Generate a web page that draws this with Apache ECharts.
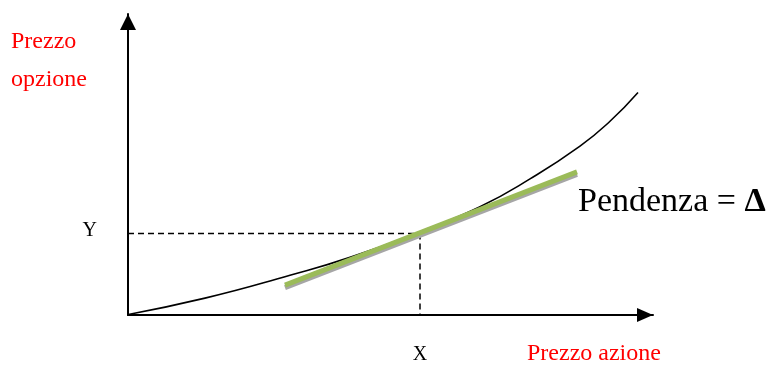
<!DOCTYPE html>
<html>
<head>
<meta charset="utf-8">
<script src="https://cdn.jsdelivr.net/npm/echarts@6/dist/echarts.min.js"></script>
<style>
* { padding: 0; margin: 0; }
body { background: #fff; }
</style>
</head>
<body>
<div id="chart" style="width: 769px; height: 365px"></div>
<script>
// curva del prezzo dell'opzione
var curveData = [
  [-8, -1], [77, 17], [162, 40], [222, 58], [290, 83],
  [352, 109], [402, 137], [452, 170], [482, 195], [510, 224]
];
// retta tangente (pendenza = delta)
var tangentData = [[157, 30], [449, 144]];
var pointX = 292;
var pointY = 82;
var dashH = [[0, pointY], [pointX, pointY]];
var dashV = [[pointX, pointY], [pointX, 0]];

var serif = "Liberation Serif";

var chart = echarts.init(document.getElementById("chart"));
chart.setOption({
  animation: false,
  grid: { left: 128, top: 14, width: 525, height: 303 },
  xAxis: {
    type: "value",
    min: 0,
    max: 525,
    splitLine: { show: false },
    axisTick: { show: false },
    axisLine: {
      lineStyle: { color: "#000", width: 2 },
      symbol: ["none", "triangle"],
      symbolSize: [14, 16],
      symbolOffset: [0, -8],
    },
    axisLabel: {
      customValues: [pointX],
      formatter: function () { return "X"; },
      margin: 30,
      color: "#000",
      fontFamily: serif,
      fontSize: 20,
    },
  },
  yAxis: {
    type: "value",
    min: 0,
    max: 303,
    splitLine: { show: false },
    axisTick: { show: false },
    axisLine: {
      show: true,
      lineStyle: { color: "#000", width: 2 },
      symbol: ["none", "triangle"],
      symbolSize: [16, 16],
      symbolOffset: [0, -8],
    },
    axisLabel: {
      customValues: [pointY + 3],
      formatter: function () { return "Y"; },
      margin: 31,
      color: "#000",
      fontFamily: serif,
      fontSize: 20,
    },
  },
  graphic: [
    { type: "text", left: 11, top: 30, style: { text: "Prezzo", fill: "#ff0000", fontFamily: serif, fontSize: 24 } },
    { type: "text", left: 11, top: 68, style: { text: "opzione", fill: "#ff0000", fontFamily: serif, fontSize: 24 } },
    { type: "text", left: 527, top: 342, style: { text: "Prezzo azione", fill: "#ff0000", fontFamily: serif, fontSize: 24 } },
    {
      type: "text", left: 578, top: 185,
      style: {
        text: "{a|Pendenza = }{b|Δ}",
        rich: {
          a: { fontFamily: serif, fontSize: 34, fill: "#000" },
          b: { fontFamily: serif, fontSize: 34, fontWeight: "bold", fill: "#000" },
        },
      },
    },
  ],
  series: [
    {
      type: "line",
      data: dashH,
      showSymbol: false,
      lineStyle: { color: "#000", width: 1.5, type: [6, 4] },
    },
    {
      type: "line",
      data: dashV,
      showSymbol: false,
      lineStyle: { color: "#000", width: 1.5, type: [6, 4] },
    },
    {
      type: "line",
      data: curveData,
      showSymbol: false,
      smooth: true,
      clip: false,
      lineStyle: { color: "#000", width: 1.6 },
    },
    {
      type: "line",
      data: tangentData,
      showSymbol: false,
      lineStyle: {
        color: "#9bbb59",
        width: 5,
        cap: "butt",
        shadowColor: "#a6a6a6",
        shadowBlur: 0,
        shadowOffsetX: 0,
        shadowOffsetY: 2.5,
      },
    },
  ],
});
</script>
</body>
</html>
